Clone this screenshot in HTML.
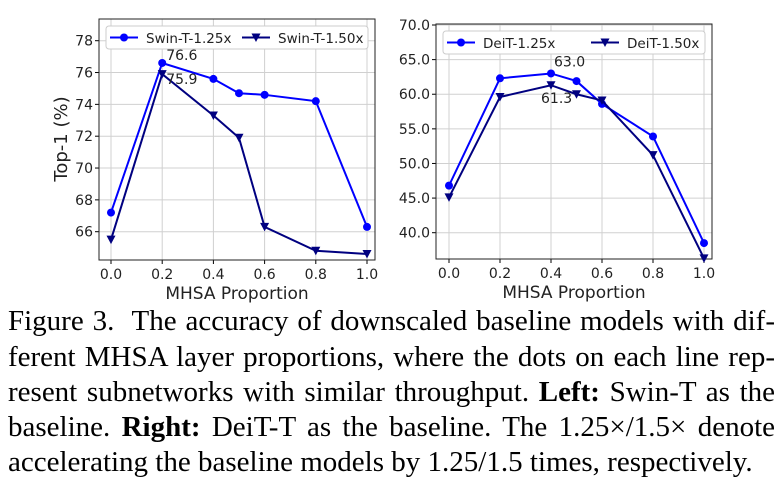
<!DOCTYPE html>
<html><head><meta charset="utf-8"><style>
body{margin:0;background:#fff;width:783px;height:490px;overflow:hidden;position:relative}
svg{position:absolute;left:0;top:0}
.cap{position:absolute;left:8px;width:767px;font-family:"Liberation Serif",serif;font-size:29px;color:#000;white-space:nowrap;line-height:35px}
.j{text-align:justify;text-align-last:justify}
</style></head><body>
<svg id="chart" width="783" height="320" font-family="DejaVu Sans, sans-serif"></svg>
<div class="cap j" style="top:304px">Figure 3.&nbsp; The accuracy of downscaled baseline models with dif-</div>
<div class="cap j" style="top:340px">ferent MHSA layer proportions, where the dots on each line rep-</div>
<div class="cap j" style="top:375px">resent subnetworks with similar throughput. <b>Left:</b> Swin-T as the</div>
<div class="cap j" style="top:410px">baseline. <b>Right:</b> DeiT-T as the baseline. The 1.25×/1.5× denote</div>
<div class="cap" style="top:445px">accelerating the baseline models by 1.25/1.5 times, respectively.</div>
<script>
const xVals=[0,0.2,0.4,0.5,0.6,0.8,1.0];
const xTicks=[0,0.2,0.4,0.6,0.8,1.0];
const swin125=[67.2,76.6,75.6,74.7,74.6,74.2,66.3];
const swin150=[65.5,75.9,73.3,71.9,66.3,64.8,64.6];
const swinTicks=[66,68,70,72,74,76,78];
const deit125=[46.8,62.3,63.0,61.9,58.6,53.9,38.5];
const deit150=[45.1,59.6,61.3,60.0,59.1,51.2,36.3];
const deitTicks=[40,45,50,55,60,65,70];
const svg=document.getElementById('chart');
const NS='http://www.w3.org/2000/svg';
function mk(tag,attrs,parent){const e=document.createElementNS(NS,tag);for(const k in attrs)e.setAttribute(k,attrs[k]);(parent||svg).appendChild(e);return e;}
function panel(cfg){
  const g=mk('g',{});
  
  
  const xs=v=>cfg.x0+(cfg.x1-cfg.x0)*v;
  const ys=v=>cfg.yA+(v-cfg.vA)*(cfg.yB-cfg.yA)/(cfg.vB-cfg.vA);
  xTicks.forEach(t=>{mk('line',{x1:xs(t),x2:xs(t),y1:cfg.top,y2:cfg.bot,stroke:'#d0d0d0','stroke-width':1},g);
    const tl=mk('text',{x:xs(t),y:cfg.bot+19,'text-anchor':'middle','font-size':14,fill:'#222'},g);tl.textContent=t.toFixed(1);
    
    
    mk('line',{x1:xs(t),x2:xs(t),y1:cfg.bot,y2:cfg.bot+4,stroke:'#000'},g);});
  cfg.ticks.forEach(t=>{mk('line',{x1:cfg.left,x2:cfg.right,y1:ys(t),y2:ys(t),stroke:'#d0d0d0','stroke-width':1},g);
    const tl=mk('text',{x:cfg.left-6,y:ys(t)+5,'text-anchor':'end','font-size':14,fill:'#222'},g);tl.textContent=cfg.fmt(t);
    
    
    mk('line',{x1:cfg.left-4,x2:cfg.left,y1:ys(t),y2:ys(t),stroke:'#000'},g);});
  mk('rect',{x:cfg.left,y:cfg.top,width:cfg.right-cfg.left,height:cfg.bot-cfg.top,fill:'none',stroke:'#222','stroke-width':1},g);
  const xl=mk('text',{x:(cfg.left+cfg.right)/2,y:cfg.bot+39,'text-anchor':'middle','font-size':17,fill:'#222'},g);xl.textContent='MHSA Proportion';
  
  
  [[cfg.s1,'#0000ff','circle'],[cfg.s2,'#000080','tri']].forEach(([s,c,m],i)=>{
    const pl=mk('polyline',{points:s.map((v,j)=>xs(xVals[j])+','+ys(v)).join(' '),fill:'none',stroke:c,'stroke-width':2},g);
    
    
    s.forEach((v,j)=>{const X=xs(xVals[j]),Y=ys(v);
      let p;
      if(m==='circle')p=mk('circle',{cx:X,cy:Y,r:4,fill:c},g);
      else p=mk('polygon',{points:`${X-4.5},${Y-4} ${X+4.5},${Y-4} ${X},${Y+4.5}`,fill:c},g);
      
      });
  });
  cfg.ann.forEach(a=>{const t=mk('text',{x:xs(a[0])+a[2],y:ys(a[1])+a[3],'font-size':14,fill:'#222'},g);t.textContent=a[1].toFixed(1);
    
    });
  const lg=mk('g',{},g);
  
  
  const lx=cfg.left+7,ly=cfg.top+7;
  mk('rect',{x:lx,y:ly,width:cfg.right-cfg.left-14,height:23,rx:3,fill:'#fff',stroke:'#ccc'},lg);
  [[cfg.l1,'#0000ff','circle',lx+4],[cfg.l2,'#000080','tri',lx+cfg.l2off]].forEach(([lab,c,m,x])=>{
    mk('line',{x1:x,x2:x+28,y1:ly+11.5,y2:ly+11.5,stroke:c,'stroke-width':2},lg);
    if(m==='circle')mk('circle',{cx:x+14,cy:ly+11.5,r:4,fill:c},lg);
    else mk('polygon',{points:`${x+9.5},${ly+7.5} ${x+18.5},${ly+7.5} ${x+14},${ly+16}`,fill:c},lg);
    const t=mk('text',{x:x+36,y:ly+17,'font-size':13.5,fill:'#222'},lg);t.textContent=lab;
    
    });
}
panel({name:'swin-chart',left:99,right:375,top:19,bot:260,x0:111,x1:367,vA:78,yA:40.7,vB:66,yB:231.7,ticks:swinTicks,fmt:t=>String(t),
  s1:swin125,s2:swin150,l1:'Swin-T-1.25x',l2:'Swin-T-1.50x',l2off:136,ann:[[0.2,76.6,4,-3],[0.2,75.9,4,10]]});
panel({name:'deit-chart',left:436,right:712,top:24,bot:259,x0:449,x1:704,vA:70,yA:25,vB:40,yB:232.7,ticks:deitTicks,fmt:t=>t.toFixed(1),
  s1:deit125,s2:deit150,l1:'DeiT-1.25x',l2:'DeiT-1.50x',l2off:148,ann:[[0.4,63.0,3,-7],[0.4,61.3,-10,18]]});
const yt=mk('text',{x:0,y:0,'font-size':18,fill:'#222','text-anchor':'middle',transform:'translate(67,139) rotate(-90)'});
yt.textContent='Top-1 (%)';


</script>
</body></html>
